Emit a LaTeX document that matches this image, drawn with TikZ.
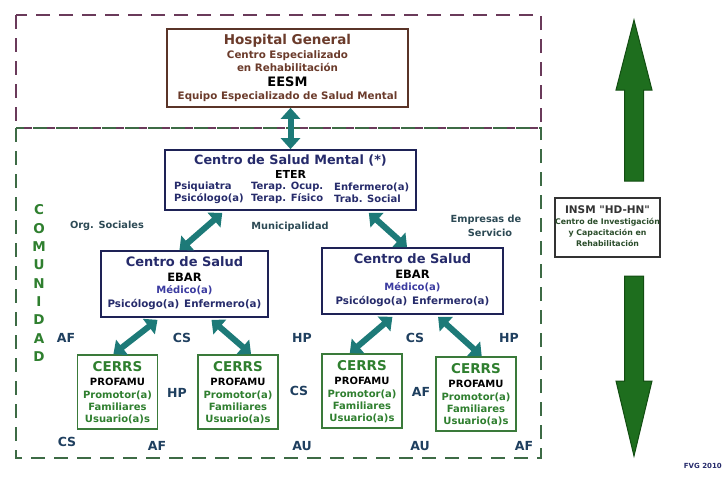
\documentclass[tikz,border=0pt]{standalone}
\usepackage{fontspec}
\setmainfont{DejaVu Sans}
\newfontfamily\plainq{DejaVu Sans}
\usetikzlibrary{arrows.meta,calc}
\definecolor{brownT}{HTML}{6B3B2B}
\definecolor{brownB}{HTML}{5A3428}
\definecolor{navyT}{HTML}{262B6B}
\definecolor{blueT}{HTML}{3B3BA0}
\definecolor{greenT}{HTML}{2F7F2F}
\definecolor{greenB}{HTML}{3A7A3A}
\definecolor{labelT}{HTML}{1F3F5F}
\definecolor{orgT}{HTML}{2D4A55}
\definecolor{tealA}{HTML}{1D7A78}
\definecolor{bigG}{HTML}{1E6E1E}
\definecolor{bigGd}{HTML}{124D12}
\definecolor{purpleD}{HTML}{6A3A5A}
\definecolor{greenD}{HTML}{3D6B45}
\definecolor{insmT}{HTML}{333333}
\definecolor{insmG}{HTML}{2B4D2B}
\tikzset{
  txt/.style={inner sep=0pt, font=\bfseries\fontsize{#1}{#1}\selectfont},
  box/.style={draw, line width=1.7pt, fill=white, inner sep=0pt},
  tarrow/.style={draw=tealA, line width=6pt, {Triangle[length=11pt,width=19pt]}-{Triangle[length=11pt,width=19pt]}},
  lbl/.style={txt=12.5, text=labelT},
  org/.style={txt=9.8, text=orgT},
  bigarrow/.style={fill=bigG, draw=bigGd, line width=1pt},
  regiondash/.style={line width=2.2pt, dash pattern=on 14pt off 9pt},
}
\begin{document}
\begin{tikzpicture}[x=1pt,y=-1pt]
\useasboundingbox (0,0) rectangle (724,477);
\clip (0,0) rectangle (724,477);
% dashed regions
\draw[purpleD, regiondash] (16,15) rectangle (541,128);
\draw[greenD, regiondash] (16,128) rectangle (541,458);

% Hospital General
\node[box, draw=brownB, minimum width=241pt, minimum height=78pt] (hosp) at (287.5,68) {};
\node[txt=13.5, text=brownT] (h1) at (287.5,41) {Hospital General};
\node[txt=10.3, text=brownT] (h2) at (287.5,55.5) {Centro Especializado};
\node[txt=10.3, text=brownT] (h3) at (287.5,67.5) {en Rehabilitación};
\node[txt=13, text=black] (h4) at (287.5,82) {EESM};
\node[txt=10.3, text=brownT] (h5) at (287.5,96.5) {Equipo Especializado de Salud Mental};

% Centro de Salud Mental
\node[box, draw=navyT!80!black, minimum width=251pt, minimum height=60pt] (csm) at (290.5,180) {};
\node[txt=12.8, text=navyT] (m1) at (290.5,160) {Centro de Salud Mental (*)};
\node[txt=11, text=black] (m2) at (290.5,174) {ETER};
\node[txt=10, text=navyT, anchor=west] (m3) at (174,187) {Psiquiatra};
\node[txt=10, text=navyT, anchor=west] (m4) at (174,199) {Psicólogo(a)};
\node[txt=10, text=navyT, anchor=west] (m5) at (251,187) {Terap. Ocup.};
\node[txt=10, text=navyT, anchor=west] (m6) at (251,199) {Terap. Físico};
\node[txt=10, text=navyT, anchor=west] (m7) at (334,187) {Enfermero(a)};
\node[txt=10, text=navyT, anchor=west] (m8) at (334,199) {Trab. Social};

% Centros de Salud
\node[box, draw=navyT!80!black, minimum width=167pt, minimum height=66pt] (csl) at (184.5,284) {};
\node[txt=13, text=navyT] (l1) at (184.5,262) {Centro de Salud};
\node[txt=11.5, text=black] (l2) at (184.5,277) {EBAR};
\node[txt=10, text=blueT] (l3) at (184.5,290) {Médico(a)};
\node[txt=10.3, text=navyT] (l4) at (184.5,304) {Psicólogo(a)\hspace{5pt}Enfermero(a)};

\node[box, draw=navyT!80!black, minimum width=181pt, minimum height=66pt] (csr) at (412.5,281) {};
\node[txt=13, text=navyT] (r1) at (412.5,259) {Centro de Salud};
\node[txt=11.5, text=black] (r2) at (412.5,274) {EBAR};
\node[txt=10, text=blueT] (r3) at (412.5,287) {Médico(a)};
\node[txt=10.3, text=navyT] (r4) at (412.5,301) {Psicólogo(a)\hspace{5pt}Enfermero(a)};

% CERRS boxes
\foreach \n/\x/\y in {c1/117.5/392, c2/238/392, c3/362/391, c4/476/394}{
  \node[box, draw=greenB, minimum width=80pt, minimum height=74pt] (\n) at (\x,\y) {};
  \node[txt=13.5, text=greenT] (\n t1) at (\x,\y-25) {CERRS};
  \node[txt=10, text=black] (\n t2) at (\x,\y-10) {PROFAMU};
  \node[txt=10, text=greenT] (\n t3) at (\x,\y+3) {Promotor(a)};
  \node[txt=10, text=greenT] (\n t4) at (\x,\y+15) {Familiares};
  \node[txt=10, text=greenT] (\n t5) at (\x,\y+27) {Usuario(a)s};
}

% teal arrows
\draw[tarrow] (csm.north |- hosp.south) -- (csm.north);
\coordinate (a1s) at ($(csm.south west)!0.23!(csm.south east)$);
\coordinate (a1e) at ($(csl.north west)!0.47!(csl.north east)$);
\draw[tarrow] ($(a1s)+(0,2)$) -- (a1e);
\coordinate (a2s) at ($(csm.south west)!0.81!(csm.south east)$);
\coordinate (a2e) at ($(csr.north west)!0.47!(csr.north east)$);
\draw[tarrow] ($(a2s)+(0,2)$) -- (a2e);
\coordinate (a3s) at ($(csl.south west)!0.34!(csl.south east)$);
\coordinate (a3e) at ($(c1.north west)!0.45!(c1.north east)$);
\draw[tarrow] ($(a3s)+(0,2)$) -- (a3e);
\coordinate (a4s) at ($(csl.south west)!0.66!(csl.south east)$);
\coordinate (a4e) at ($(c2.north west)!0.66!(c2.north east)$);
\draw[tarrow] ($(a4s)+(0,2)$) -- (a4e);
\coordinate (a5s) at ($(csr.south west)!0.39!(csr.south east)$);
\coordinate (a5e) at ($(c3.north west)!0.35!(c3.north east)$);
\draw[tarrow] ($(a5s)+(0,2)$) -- (a5e);
\coordinate (a6s) at ($(csr.south west)!0.64!(csr.south east)$);
\coordinate (a6e) at ($(c4.north west)!0.57!(c4.north east)$);
\draw[tarrow] ($(a6s)+(0,2)$) -- (a6e);

% side labels
\node[org] (o1) at (107,226) {Org. Sociales};
\node[org] (o2) at (290,227) {Municipalidad};
\node[org] (o3) at (486,220) {Empresas de};
\node[org] (o4) at (490,233) {Servicio};

\node[lbl] (lA1) at (66,338) {AF};
\node[lbl] (lA2) at (182,338) {CS};
\node[lbl] (lA3) at (302,338) {HP};
\node[lbl] (lA4) at (415,338) {CS};
\node[lbl] (lA5) at (509,338) {HP};
\node[lbl] (lB1) at (177,393) {HP};
\node[lbl] (lB2) at (299,391) {CS};
\node[lbl] (lB3) at (421,392) {AF};
\node[lbl] (lC1) at (67,442) {CS};
\node[lbl] (lC2) at (157,446) {AF};
\node[lbl] (lC3) at (302,446) {AU};
\node[lbl] (lC4) at (420,446) {AU};
\node[lbl] (lC5) at (524,446) {AF};

% COMUNIDAD
\foreach \c [count=\i from 0] in {C,O,M,U,N,I,D,A,D}{
  \node[txt=13.5, text=greenT] (com\i) at (39,210+18.3*\i) {\c};
}

% right side
\draw[bigarrow] (634,20) -- (652,90) -- (643.5,90) -- (643.5,181) -- (624.5,181) -- (624.5,90) -- (616,90) -- cycle;
\draw[bigarrow] (634,456) -- (652,381) -- (643.5,381) -- (643.5,276) -- (624.5,276) -- (624.5,381) -- (616,381) -- cycle;
\node[box, draw=insmT, line width=1.4pt, minimum width=105pt, minimum height=59pt] (insm) at (607.5,227.5) {};
\node[txt=10.5, text=insmT, font=\plainq\bfseries\fontsize{10.5}{10.5}\selectfont] (i1) at (607.5,210) {INSM "HD-HN"};
\node[txt=7.8, text=insmG] (i2) at (607.5,222.5) {Centro de Investigación};
\node[txt=7.8, text=insmG] (i3) at (607.5,233) {y Capacitación en};
\node[txt=7.8, text=insmG] (i4) at (607.5,243.5) {Rehabilitación};

\node[txt=7, text=navyT, anchor=east] (fvg) at (722,466) {FVG 2010};
\end{tikzpicture}
\end{document}
